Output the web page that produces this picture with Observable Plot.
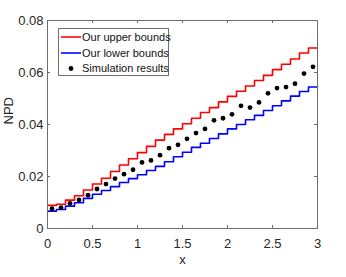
<!DOCTYPE html>
<html>
<head>
<meta charset="utf-8">
<script src="https://cdn.jsdelivr.net/npm/d3@7"></script>
<script src="https://cdn.jsdelivr.net/npm/@observablehq/plot@0.6"></script>
<style>
  html, body { margin: 0; padding: 0; background: white; }
</style>
</head>
<body>
<div id="chart"></div>
<script>
// Step edges (x) for the bound step lines
const stepX = [0, 0.1, 0.2, 0.3, 0.4, 0.5, 0.6, 0.7, 0.8, 0.9, 1.0, 1.1, 1.2, 1.3, 1.4, 1.5,
  1.6, 1.7, 1.8, 1.9, 2.0, 2.1, 2.2, 2.3, 2.4, 2.5, 2.6, 2.7, 2.8, 2.9, 3.0];
// Upper bounds per step (last value repeated at x = 3 to close the final step)
const upperBounds = [0.0089, 0.0093, 0.0109, 0.0126, 0.0148, 0.0171, 0.0193, 0.0219, 0.0244, 0.0268,
  0.0292, 0.0316, 0.0340, 0.0362, 0.0383, 0.0403, 0.0424, 0.0446, 0.0465, 0.0487,
  0.0508, 0.0528, 0.0548, 0.0569, 0.0589, 0.0611, 0.0632, 0.0652, 0.0675, 0.0694, 0.0694];
const lowerBounds = [0.0067, 0.0073, 0.0086, 0.0099, 0.0116, 0.0132, 0.0146, 0.0161, 0.0177, 0.0192,
  0.0207, 0.0223, 0.0239, 0.0257, 0.0276, 0.0293, 0.0312, 0.0328, 0.0346, 0.0364,
  0.0383, 0.0400, 0.0418, 0.0435, 0.0454, 0.0472, 0.0491, 0.0509, 0.0527, 0.0544, 0.0544];
// Simulation points
const simX = [0.05, 0.15, 0.25, 0.35, 0.45, 0.55, 0.65, 0.75, 0.85, 0.95, 1.05, 1.15, 1.25, 1.35, 1.45,
  1.55, 1.65, 1.75, 1.85, 1.95, 2.05, 2.15, 2.25, 2.35, 2.45, 2.55, 2.65, 2.75, 2.85, 2.95];
const simY = [0.0076, 0.0080, 0.0097, 0.0110, 0.0128, 0.0152, 0.0171, 0.0192, 0.0209, 0.0226,
  0.0254, 0.0262, 0.0282, 0.0309, 0.0322, 0.0345, 0.0367, 0.0383, 0.0416, 0.0424,
  0.0439, 0.0472, 0.0465, 0.0485, 0.0520, 0.0540, 0.0544, 0.0557, 0.0596, 0.0622];
const xTicks = [0, 0.5, 1, 1.5, 2, 2.5, 3];
const yTicks = [0, 0.02, 0.04, 0.06, 0.08];
const seriesNames = ["Our upper bounds", "Our lower bounds", "Simulation results"];
const xLabel = "x";
const yLabel = "NPD";

const upper = stepX.map((x, i) => ({x, y: upperBounds[i]}));
const lower = stepX.map((x, i) => ({x, y: lowerBounds[i]}));
const sim = simX.map((x, i) => ({x, y: simY[i]}));

const axisColor = "#6e6e6e";
const tickLenY = 0.08 * 3 / 208;
const tickLenX = 3 * 3 / 270;

const chart = Plot.plot({
  width: 346,
  height: 277,
  marginLeft: 47,
  marginRight: 29,
  marginTop: 20,
  marginBottom: 49,
  x: {domain: [0, 3]},
  y: {domain: [0, 0.08]},
  style: {fontFamily: "'Liberation Sans', Arial, sans-serif", fontSize: "13px", color: "#262626", background: "white"},
  marks: [
    Plot.line(upper, {x: "x", y: "y", curve: "step-after", stroke: "#ff0000", strokeWidth: 1.6}),
    Plot.line(lower, {x: "x", y: "y", curve: "step-after", stroke: "#0000ff", strokeWidth: 1.6}),
    Plot.dot(sim, {x: "x", y: "y", r: 2.4, fill: "black", stroke: null}),
    Plot.frame({stroke: axisColor, strokeWidth: 1}),
    Plot.ruleX(xTicks, {y1: 0, y2: tickLenY, stroke: axisColor}),
    Plot.ruleX(xTicks, {y1: 0.08, y2: 0.08 - tickLenY, stroke: axisColor}),
    Plot.ruleY(yTicks, {x1: 0, x2: tickLenX, stroke: axisColor}),
    Plot.ruleY(yTicks, {x1: 3, x2: 3 - tickLenX, stroke: axisColor}),
    Plot.axisX({ticks: xTicks, tickSize: 0, tickPadding: 10, label: null, tickFormat: d => String(d)}),
    Plot.axisY({ticks: yTicks, tickSize: 0, tickPadding: 4, label: null, tickFormat: d => String(d)}),
    Plot.text([xLabel], {frameAnchor: "bottom", dy: 35, fontSize: 13, fill: "#262626"}),
    Plot.text([yLabel], {frameAnchor: "left", dx: -39, rotate: -90, fontSize: 13, fill: "#262626"})
  ]
});

document.getElementById("chart").appendChild(chart);

// Legend inside the plot area (top-left)
const svg = d3.select(chart);
const lg = svg.append("g")
  .attr("font-family", "'Liberation Sans', Arial, sans-serif")
  .attr("font-size", 11)
  .attr("text-anchor", "start");
lg.append("rect").attr("x", 58.5).attr("y", 28.5).attr("width", 110).attr("height", 47)
  .attr("fill", "white").attr("stroke", axisColor);
const rowsY = [37, 53, 68.5];
const colors = ["#ff0000", "#0000ff", "black"];
seriesNames.forEach((name, i) => {
  if (i < 2) {
    lg.append("line").attr("x1", 61).attr("x2", 81).attr("y1", rowsY[i]).attr("y2", rowsY[i])
      .attr("stroke", colors[i]).attr("stroke-width", 1.6);
  } else {
    lg.append("circle").attr("cx", 71).attr("cy", rowsY[i]).attr("r", 2.4).attr("fill", "black");
  }
  lg.append("text").attr("x", 82).attr("y", rowsY[i]).attr("dy", "0.35em")
    .attr("text-anchor", "start").attr("fill", "#111").text(name);
});
</script>
</body>
</html>
